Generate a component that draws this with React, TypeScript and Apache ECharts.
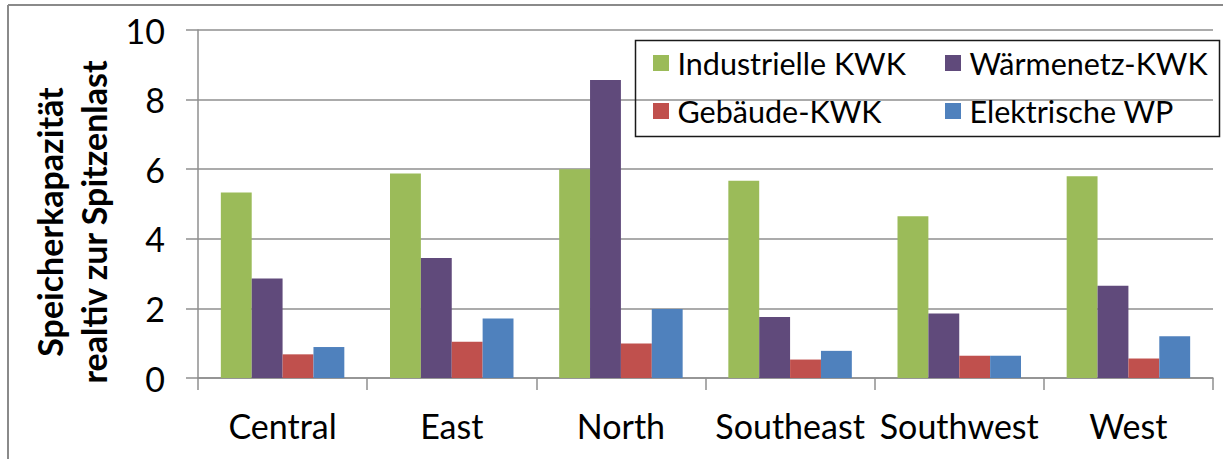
import React, { useEffect, useRef } from "react";
import * as echarts from "echarts";

const regions = ["Central", "East", "North", "Southeast", "Southwest", "West"];
const industrielleKWK = [5.33, 5.88, 6.0, 5.67, 4.65, 5.8];
const waermenetzKWK = [2.86, 3.45, 8.56, 1.75, 1.85, 2.65];
const gebaeudeKWK = [0.68, 1.04, 0.99, 0.53, 0.64, 0.56];
const elektrischeWP = [0.89, 1.71, 1.98, 0.78, 0.64, 1.2];
const yTicks = { min: 0, max: 10, interval: 2 };
const yTitle = ["Speicherkapazität", "realtiv zur Spitzenlast"];

const FONT = "Lato";
const GRID_GRAY = "#8f8f8f";

export default function App() {
  const ref = useRef<HTMLDivElement>(null);

  useEffect(() => {
    if (!ref.current) return;
    const chart = echarts.init(ref.current, null, { renderer: "svg" });

    const bar = (name: string, data: number[], color: string) => ({
      name,
      type: "bar",
      data,
      barGap: "0%",
      barCategoryGap: "27%",
      itemStyle: { color },
    });

    const legendText = {
      fontFamily: FONT,
      fontSize: 30.5,
      color: "#000",
      lineHeight: 34,
      padding: [0, 0, 0, 3.5],
    };

    const legendBase = {
      orient: "vertical",
      top: 46,
      itemWidth: 16,
      itemHeight: 16,
      itemGap: 14,
      icon: "rect",
      padding: 0,
      textStyle: legendText,
    };

    chart.setOption({
      animation: false,
      backgroundColor: "#fff",
      textStyle: { fontFamily: FONT },
      grid: { left: 198, right: 10, top: 30, bottom: 81 },
      legend: [
        { ...legendBase, left: 653, data: ["Industrielle KWK", "Gebäude-KWK"] },
        { ...legendBase, left: 945, data: ["Wärmenetz-KWK", "Elektrische WP"] },
      ],
      xAxis: {
        type: "category",
        data: regions,
        axisLine: { lineStyle: { color: GRID_GRAY, width: 1.5 } },
        axisTick: { show: true, length: 12, lineStyle: { color: GRID_GRAY, width: 1.5 } },
        axisLabel: { interval: 0, color: "#000", fontSize: 34, fontFamily: FONT, margin: 30 },
      },
      yAxis: {
        type: "value",
        min: yTicks.min,
        max: yTicks.max,
        interval: yTicks.interval,
        axisLine: { show: true, lineStyle: { color: GRID_GRAY, width: 1.5 } },
        axisTick: { show: true, length: 12, lineStyle: { color: GRID_GRAY, width: 1.5 } },
        splitLine: { lineStyle: { color: GRID_GRAY, width: 1.5 } },
        axisLabel: { color: "#000", fontSize: 34, fontFamily: FONT, margin: 33 },
      },
      series: [
        bar("Industrielle KWK", industrielleKWK, "#9BBB59"),
        bar("Wärmenetz-KWK", waermenetzKWK, "#604A7B"),
        bar("Gebäude-KWK", gebaeudeKWK, "#C0504D"),
        bar("Elektrische WP", elektrischeWP, "#4F81BD"),
      ],
      graphic: [
        // outer frame: top and left edges
        {
          type: "line",
          shape: { x1: 8, y1: 5, x2: 1223, y2: 5 },
          style: { stroke: "#8a8a8a", lineWidth: 2 },
        },
        {
          type: "line",
          shape: { x1: 8, y1: 5, x2: 8, y2: 459 },
          style: { stroke: "#8a8a8a", lineWidth: 2 },
        },
        // y-axis title, two rotated lines
        {
          type: "text",
          x: 71,
          y: 222,
          rotation: Math.PI / 2,
          style: {
            text: yTitle.join("\n"),
            fill: "#000",
            font: `bold 34px ${FONT}`,
            lineHeight: 44,
            align: "center",
            verticalAlign: "middle",
          },
        },
        // legend frame
        {
          type: "rect",
          shape: { x: 635.5, y: 40.5, width: 584, height: 96 },
          style: { fill: "none", stroke: "#1a1a1a", lineWidth: 1.5 },
          z: 1,
        },
      ],
    });

    return () => chart.dispose();
  }, []);

  return (
    <div
      ref={ref}
      style={{ position: "fixed", left: 0, top: 0, width: 1223, height: 459 }}
    />
  );
}
